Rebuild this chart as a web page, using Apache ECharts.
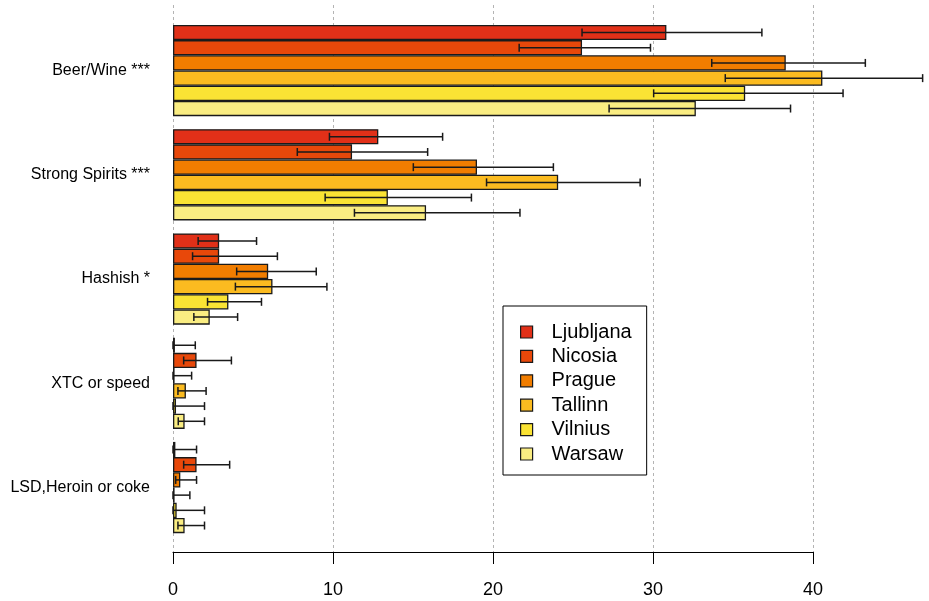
<!DOCTYPE html>
<html>
<head>
<meta charset="utf-8">
<script src="https://cdn.jsdelivr.net/npm/echarts@6/dist/echarts.min.js"></script>
<style>
  html, body { margin: 0; padding: 0; background: #ffffff; }
  #chart { width: 929px; height: 601px; }
</style>
</head>
<body>
<div id="chart"></div>
<script>
// Substance categories, top to bottom
const categories = ['Beer/Wine ***', 'Strong Spirits ***', 'Hashish *', 'XTC or speed', 'LSD,Heroin or coke'];
const cities = ['Ljubljana', 'Nicosia', 'Prague', 'Tallinn', 'Vilnius', 'Warsaw'];
const cityColors = ['#E13018', '#E8480A', '#F17D00', '#FBBB20', '#FAE334', '#FAED82'];

// Percentages per city, one entry per category
const ljubljana = [31.0, 12.9, 2.9, 0.12, 0.15];
const nicosia   = [25.7, 11.25, 2.9, 1.48, 1.48];
const prague    = [38.5, 19.1, 5.98, 0.1, 0.46];
const tallinn   = [40.8, 24.2, 6.25, 0.81, 0.1];
const vilnius   = [35.95, 13.5, 3.48, 0.19, 0.23];
const warsaw    = [32.85, 15.9, 2.31, 0.73, 0.73];

// Confidence interval bounds per city
const ljubljanaLow  = [25.7, 9.83, 1.58, 0.0, 0.0];
const ljubljanaHigh = [37.0, 16.94, 5.25, 1.4, 1.48];
const nicosiaLow    = [21.75, 7.81, 1.23, 0.67, 0.67];
const nicosiaHigh   = [30.0, 16.0, 6.56, 3.67, 3.56];
const pragueLow     = [33.85, 15.1, 4.0, 0.0, 0.17];
const pragueHigh    = [43.5, 23.9, 9.0, 1.17, 1.48];
const tallinnLow    = [34.7, 19.7, 3.92, 0.31, 0.0];
const tallinnHigh   = [47.1, 29.35, 9.67, 2.08, 1.06];
const vilniusLow    = [30.2, 9.56, 2.17, 0.0, 0.0];
const vilniusHigh   = [42.1, 18.75, 5.56, 1.98, 1.98];
const warsawLow     = [27.4, 11.4, 1.31, 0.33, 0.31];
const warsawHigh    = [38.8, 21.8, 4.06, 1.98, 1.98];

// Axis ticks
const xTicks = [0, 10, 20, 30, 40];

const values = [ljubljana, nicosia, prague, tallinn, vilnius, warsaw];
const lows = [ljubljanaLow, nicosiaLow, pragueLow, tallinnLow, vilniusLow, warsawLow];
const highs = [ljubljanaHigh, nicosiaHigh, pragueHigh, tallinnHigh, vilniusHigh, warsawHigh];

const FONT = "'Liberation Sans', Arial, Helvetica, sans-serif";
const GAP = 0.125;          // fraction of a category band left empty
const EDGE = '#1a1a1a';

const chart = echarts.init(document.getElementById('chart'), null, { renderer: 'canvas' });

const barSeries = cities.map((name, i) => ({
  name: name,
  type: 'bar',
  xAxisIndex: 1,
  yAxisIndex: 1,
  barGap: '0%',
  barCategoryGap: (GAP * 100) + '%',
  data: values[i],
  itemStyle: { color: cityColors[i], borderColor: EDGE, borderWidth: 1.3 },
  emphasis: { disabled: true },
  z: 2
}));

const errorSeries = cities.map((name, i) => ({
  name: name + ' CI',
  type: 'custom',
  xAxisIndex: 1,
  yAxisIndex: 1,
  z: 5,
  clip: false,
  silent: true,
  encode: { x: [1, 2], y: 0 },
  data: categories.map((c, k) => [k, lows[i][k], highs[i][k]]),
  renderItem: function (params, api) {
    const cat = api.value(0);
    const lo = api.coord([api.value(1), cat]);
    const hi = api.coord([api.value(2), cat]);
    const band = api.size([0, 1])[1];
    const groupH = band * (1 - GAP);
    const barH = groupH / cities.length;
    const y = lo[1] - groupH / 2 + (i + 0.5) * barH;
    const cap = 4;
    const style = { stroke: EDGE, lineWidth: 1.5 };
    return {
      type: 'group',
      children: [
        { type: 'line', shape: { x1: lo[0], y1: y, x2: hi[0], y2: y }, style: style },
        { type: 'line', shape: { x1: lo[0], y1: y - cap, x2: lo[0], y2: y + cap }, style: style },
        { type: 'line', shape: { x1: hi[0], y1: y - cap, x2: hi[0], y2: y + cap }, style: style }
      ]
    };
  }
}));

chart.setOption({
  backgroundColor: '#ffffff',
  animation: false,
  textStyle: { fontFamily: FONT },
  grid: [
    // frame for the x axis and the dotted reference lines
    { left: 173, width: 640, top: 5, height: 547, containLabel: false },
    // frame for the bars (same 16 px per unit scale, wider range)
    { left: 173, width: 760, top: 18.4, height: 521.25, containLabel: false }
  ],
  xAxis: [
    {
      gridIndex: 0,
      type: 'value',
      min: xTicks[0],
      max: xTicks[xTicks.length - 1],
      interval: 10,
      axisLine: { show: true, lineStyle: { color: '#000', width: 1 } },
      axisTick: { show: true, length: 12, lineStyle: { color: '#000', width: 1 } },
      axisLabel: { show: true, color: '#000', fontSize: 18, margin: 29, fontFamily: FONT },
      splitLine: { show: true, lineStyle: { color: '#b4b4b4', width: 1, type: [3, 3] } }
    },
    {
      gridIndex: 1,
      type: 'value',
      min: 0,
      max: 47.5,
      show: false,
      splitLine: { show: false }
    }
  ],
  yAxis: [
    { gridIndex: 0, type: 'value', show: false, splitLine: { show: false } },
    {
      gridIndex: 1,
      type: 'category',
      inverse: true,
      data: categories,
      axisLine: { show: false },
      axisTick: { show: false },
      splitLine: { show: false },
      axisLabel: { color: '#000', fontSize: 16, margin: 23, fontFamily: FONT }
    }
  ],
  legend: {
    data: cities,
    orient: 'vertical',
    left: 503,
    top: 306,
    itemWidth: 12,
    itemHeight: 12,
    itemGap: 4.4,
    icon: 'rect',
    padding: [16, 15, 11, 17],
    borderColor: '#000',
    borderWidth: 1,
    selectedMode: false,
    itemStyle: { borderColor: EDGE, borderWidth: 1.2 },
    textStyle: { color: '#000', fontSize: 20, lineHeight: 20, fontFamily: FONT, padding: [0, 0, 0, 14] }
  },
  series: barSeries.concat(errorSeries)
});
</script>
</body>
</html>
